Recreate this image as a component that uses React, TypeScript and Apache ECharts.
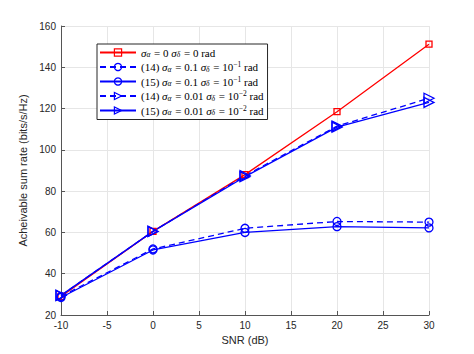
import React, { useEffect, useRef } from "react";
import * as echarts from "echarts";

const snr = [-10, 0, 10, 20, 30];
const idealRate = [29, 60.5, 88, 118.5, 151.2];
const eq14Large = [29, 52, 62, 65.3, 65];
const eq15Large = [28.5, 51.5, 60, 62.8, 62.2];
const eq14Small = [29.5, 60.5, 87.5, 111.5, 125];
const eq15Small = [29.5, 60.5, 87, 111, 123];

const seriesNames = [
  "σα = 0 σδ = 0 rad",
  "(14) σα = 0.1 σδ = 10^-1 rad",
  "(15) σα = 0.1 σδ = 10^-1 rad",
  "(14) σα = 0.01 σδ = 10^-2 rad",
  "(15) σα = 0.01 σδ = 10^-2 rad",
];
const richLabels = [
  "{s|σ}{sub|α}{t| = 0 }{s|σ}{sub|δ}{t| = 0 rad}",
  "{t|(14) }{s|σ}{sub|α}{t| = 0.1 }{s|σ}{sub|δ}{t| = 10}{sup|−1}{t| rad}",
  "{t|(15) }{s|σ}{sub|α}{t| = 0.1 }{s|σ}{sub|δ}{t| = 10}{sup|−1}{t| rad}",
  "{t|(14) }{s|σ}{sub|α}{t| = 0.01 }{s|σ}{sub|δ}{t| = 10}{sup|−2}{t| rad}",
  "{t|(15) }{s|σ}{sub|α}{t| = 0.01 }{s|σ}{sub|δ}{t| = 10}{sup|−2}{t| rad}",
];

const pair = (ys: number[]) => snr.map((x, i) => [x, ys[i]]);

export default function App() {
  const ref = useRef<HTMLDivElement>(null);
  useEffect(() => {
    const chart = echarts.init(ref.current!, null, { renderer: "svg" });
    const RED = "#ff0000";
    const BLUE = "#0000ff";
    const colors = [RED, BLUE, BLUE, BLUE, BLUE];
    const mk = (
      name: string,
      data: number[],
      color: string,
      dashed: boolean,
      symbol: string,
      size: number,
      rotate: number
    ) => ({
      name,
      type: "line",
      data: pair(data),
      symbol,
      symbolSize: size,
      symbolRotate: rotate,
      showAllSymbol: true,
      lineStyle: { color, width: 1.3, type: dashed ? [6, 4] : "solid" },
      itemStyle: { color: "rgba(255,255,255,0)", borderColor: color, borderWidth: 1.3 },
      emphasis: { disabled: true },
      z: 3,
    });
    chart.setOption({
      animation: false,
      backgroundColor: "#ffffff",
      grid: { left: 61, right: 45, top: 26, bottom: 39 },
      xAxis: {
        type: "value",
        min: -10,
        max: 30,
        interval: 5,
        name: "SNR (dB)",
        nameLocation: "middle",
        nameGap: 17,
        nameTextStyle: { fontFamily: "Liberation Sans", fontSize: 11, color: "#262626" },
        axisLine: { show: true, onZero: false, lineStyle: { color: "#555", width: 1 } },
        axisTick: { show: true, inside: true, length: 4, lineStyle: { color: "#555" } },
        axisLabel: { fontFamily: "Liberation Sans", fontSize: 10, color: "#262626", margin: 5 },
        splitLine: { show: true, lineStyle: { color: "#e6e6e6", width: 1 } },
      },
      yAxis: {
        type: "value",
        min: 20,
        max: 160,
        interval: 20,
        name: "Acheivable sum rate (bits/s/Hz)",
        nameLocation: "middle",
        nameGap: 23,
        nameTextStyle: { fontFamily: "Liberation Sans", fontSize: 11, color: "#262626" },
        axisLine: { show: true, onZero: false, lineStyle: { color: "#555", width: 1 } },
        axisTick: { show: true, inside: true, length: 4, lineStyle: { color: "#555" } },
        axisLabel: { fontFamily: "Liberation Sans", fontSize: 10, color: "#262626", margin: 5 },
        splitLine: { show: true, lineStyle: { color: "#e6e6e6", width: 1 } },
      },
      legend: {
        show: true,
        orient: "vertical",
        left: 97,
        top: 44,
        padding: [3, 4, 3, 2],
        itemGap: 2,
        itemWidth: 36,
        itemHeight: 9,
        backgroundColor: "#ffffff",
        borderColor: "#262626",
        borderWidth: 1,
        borderRadius: 0,
        data: seriesNames.map((n, i) => ({
          name: n,
          itemStyle: { color: "rgba(255,255,255,0)", borderColor: colors[i], borderWidth: 1.2 },
        })),
        formatter: (name: string) => richLabels[seriesNames.indexOf(name)],
        textStyle: {
          fontFamily: "Liberation Serif",
          fontSize: 11,
          color: "#000",
          rich: {
            t: { fontFamily: "Liberation Serif", fontSize: 11, color: "#000" },
            s: { fontFamily: "Liberation Serif", fontStyle: "italic", fontSize: 11, color: "#000" },
            sub: { fontFamily: "Liberation Serif", fontStyle: "italic", fontSize: 7.5, color: "#000", padding: [4, 1, 0, 0] },
            sup: { fontFamily: "Liberation Serif", fontSize: 7.5, color: "#000", padding: [0, 0, 5, 0] },
          },
        },
      },
      series: [
        mk(seriesNames[0], idealRate, RED, false, "rect", 6, 0),
        mk(seriesNames[1], eq14Large, BLUE, true, "circle", 8, 0),
        mk(seriesNames[2], eq15Large, BLUE, false, "circle", 8, 0),
        mk(seriesNames[3], eq14Small, BLUE, true, "triangle", 10, -90),
        mk(seriesNames[4], eq15Small, BLUE, false, "triangle", 10, -90),
      ],
    });
    return () => chart.dispose();
  }, []);
  return <div ref={ref} style={{ width: 474, height: 354, position: "absolute", left: 0, top: 0 }} />;
}
